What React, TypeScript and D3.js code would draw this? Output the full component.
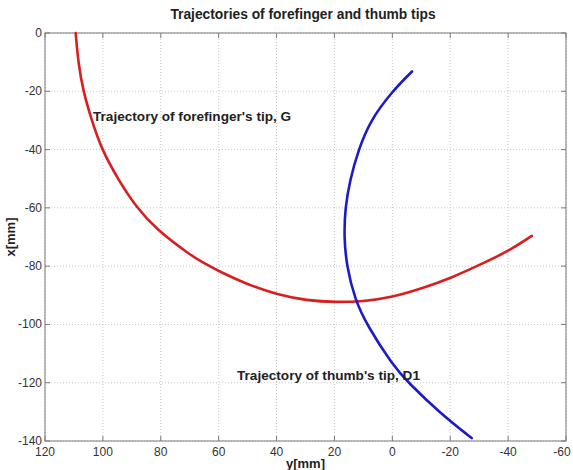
import React from "react";
import * as d3 from "d3";

// forefinger tip G: y[mm] (horizontal) and x[mm] (vertical)
const forefingerY = [109.4, 108.5, 106.8, 103.9, 100.4, 94.7, 88.3, 81.4, 69.9, 65.3, 59.8, 49.8, 39.7, 29.6, 19.5, 10.0, 0.8, -10.7, -20.3, -30.3, -40.1, -48.2];
const forefingerX = [0, -10.3, -20.0, -29.8, -40.0, -50.3, -60.0, -67.5, -76.1, -78.9, -81.8, -86.4, -89.8, -91.8, -92.4, -92.1, -90.9, -87.5, -84.1, -79.5, -74.9, -69.6];

// thumb tip D1
const thumbY = [-6.8, 0, 7.5, 11.7, 14.6, 16.3, 16.7, 15.8, 12.9, 8.9, 0, -5.5, -16.5, -27.4];
const thumbX = [-13.2, -20.0, -29.8, -40.0, -50.3, -60.0, -69.8, -80.0, -91.5, -100.0, -113.8, -120.0, -130.4, -139.0];

const xTicks = [120, 100, 80, 60, 40, 20, 0, -20, -40, -60];
const yTicks = [0, -20, -40, -60, -80, -100, -120, -140];

const W = 573;
const H = 470;
const left = 45, right = 566, top = 33, bottom = 441;

export default function App() {
  const sx = d3.scaleLinear().domain([120, -60]).range([left, right]);
  const sy = d3.scaleLinear().domain([0, -140]).range([top, bottom]);

  // B-spline smooths out the small errors of the hand-read points
  const line = d3
    .line<[number, number]>()
    .x((d) => sx(d[0]))
    .y((d) => sy(d[1]))
    .curve(d3.curveBasis);

  const red = forefingerY.map((v, i) => [v, forefingerX[i]] as [number, number]);
  const blue = thumbY.map((v, i) => [v, thumbX[i]] as [number, number]);

  const font = "'Liberation Sans', Arial, sans-serif";

  return (
    <div style={{ position: "absolute", left: 0, top: 0 }}>
      <svg width={W} height={H} style={{ display: "block", background: "#fff" }} fontFamily={font}>
        {/* grid */}
        {xTicks.map((t) => (
          <line key={"gx" + t} x1={sx(t)} x2={sx(t)} y1={top} y2={bottom} stroke="#c8c8c8" strokeWidth={1} strokeDasharray="1,2" />
        ))}
        {yTicks.map((t) => (
          <line key={"gy" + t} x1={left} x2={right} y1={sy(t)} y2={sy(t)} stroke="#c8c8c8" strokeWidth={1} strokeDasharray="1,2" />
        ))}

        {/* box */}
        <rect x={left} y={top} width={right - left} height={bottom - top} fill="none" stroke="#7a7a7a" strokeWidth={1} />

        {/* ticks */}
        {xTicks.map((t) => (
          <g key={"tx" + t}>
            <line x1={sx(t)} x2={sx(t)} y1={bottom} y2={bottom - 5} stroke="#7a7a7a" />
            <line x1={sx(t)} x2={sx(t)} y1={top} y2={top + 5} stroke="#7a7a7a" />
            <text x={Math.min(sx(t), W - 11)} y={bottom + 15} textAnchor="middle" fontSize={12} fill="#333">{t}</text>
          </g>
        ))}
        {yTicks.map((t) => (
          <g key={"ty" + t}>
            <line x1={left} x2={left + 5} y1={sy(t)} y2={sy(t)} stroke="#7a7a7a" />
            <line x1={right} x2={right - 5} y1={sy(t)} y2={sy(t)} stroke="#7a7a7a" />
            <text x={left - 3} y={sy(t) + 4} textAnchor="end" fontSize={12} fill="#333">{t}</text>
          </g>
        ))}

        {/* curves */}
        <path d={line(red) ?? ""} fill="none" stroke="#d81e1e" strokeWidth={2.6} strokeLinecap="round" />
        <path d={line(blue) ?? ""} fill="none" stroke="#1c1cc6" strokeWidth={2.6} strokeLinecap="round" />

        {/* annotations */}
        <text x={93} y={121} fontSize={13.6} fontWeight="bold" fill="#222">Trajectory of forefinger's tip, G</text>
        <text x={237} y={380} fontSize={13.6} fontWeight="bold" fill="#222">Trajectory of thumb's tip, D1</text>

        {/* titles */}
        <text x={303} y={19} textAnchor="middle" fontSize={13.8} fontWeight="bold" fill="#222">Trajectories of forefinger and thumb tips</text>
        <text x={(left + right) / 2} y={468} textAnchor="middle" fontSize={13} fontWeight="bold" fill="#222">y[mm]</text>
        <text transform={`translate(15,${(top + bottom) / 2}) rotate(-90)`} textAnchor="middle" fontSize={13} fontWeight="bold" fill="#222">x[mm]</text>
      </svg>
    </div>
  );
}
